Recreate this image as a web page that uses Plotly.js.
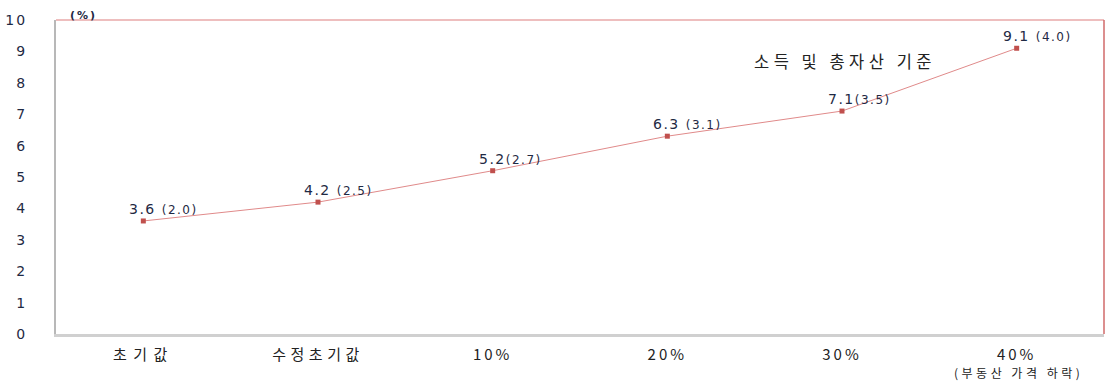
<!DOCTYPE html>
<html><head><meta charset="utf-8">
<script src="https://cdn.plot.ly/plotly-3.0.1.min.js"></script>
<style>body{margin:0;background:#fff}#chart{width:1112px;height:382px}</style>
</head><body><div id="chart"></div>
<script>
const categories = ["초기값", "수정초기값", "10%", "20%", "30%", "40%"];
const tickLabels = [
  "<span style='letter-spacing:6.5px'>초기값</span>",
  "<span style='letter-spacing:4.5px'>수정초기값</span>",
  "<span style='letter-spacing:3px'>10%</span>",
  "<span style='letter-spacing:3px'>20%</span>",
  "<span style='letter-spacing:3px'>30%</span>",
  "<span style='letter-spacing:3px'>40%</span>"
];
const subNote = "(부동산 가격 하락)";
const values = [3.6, 4.2, 5.2, 6.3, 7.1, 9.1];
const paren = [2.0, 2.5, 2.7, 3.1, 3.5, 4.0];
const labelMain = ["3.6 ", "4.2 ", "5.2", "6.3 ", "7.1", "9.1 "];
const yTicks = [0, 1, 2, 3, 4, 5, 6, 7, 8, 9, 10];

const trace = {
  x: categories, y: values, type: 'scatter', mode: 'lines+markers',
  line: {color: '#E08A8A', width: 1},
  marker: {symbol: 'square', size: 5, color: '#C0504D'},
  hoverinfo: 'skip'
};
const numFont = {family: 'DejaVu Sans, Verdana, sans-serif', size: 14, color: '#1F2A44'};
const annotations = categories.map((c, i) => ({
  x: c, y: values[i], xref: 'x', yref: 'y',
  text: '<span style="letter-spacing:1.5px">' + labelMain[i] + '</span><span style="font-size:12px;letter-spacing:1.5px">(' + paren[i].toFixed(1) + ')</span>',
  showarrow: false, xanchor: 'left', yanchor: 'bottom', xshift: -16, yshift: 2,
  font: numFont
}));
annotations.push({x: 0, y: 1, xref: 'paper', yref: 'paper', xanchor: 'left', yanchor: 'bottom',
  xshift: 12, yshift: -4, text: '<span style="letter-spacing:2px"><b>(%)</b></span>', showarrow: false,
  font: {family: 'DejaVu Sans, sans-serif', size: 11, color: '#1F2A44'}});
annotations.push({x: 0.664, y: 0.87, xref: 'paper', yref: 'paper', xanchor: 'left', yanchor: 'middle',
  text: '<span style="letter-spacing:4.5px">소득 및 총자산 기준</span>', showarrow: false,
  font: {family: 'Noto Sans CJK KR, sans-serif', size: 16.5, color: '#222222'}});
annotations.push({x: categories[5], y: 0, xref: 'x', yref: 'paper', xanchor: 'center', yanchor: 'middle',
  yshift: -38, xshift: 2, borderpad: 0, text: '<span style="letter-spacing:3.5px">' + subNote + '</span>', showarrow: false,
  font: {family: 'Noto Sans CJK KR, sans-serif', size: 12, color: '#222222'}});

const layout = {
  width: 1112, height: 382,
  margin: {l: 56, r: 8, t: 20, b: 48},
  paper_bgcolor: '#ffffff', plot_bgcolor: '#ffffff',
  showlegend: false,
  xaxis: {
    type: 'category', range: [-0.5, 5.5], tickvals: categories, ticktext: tickLabels,
    showgrid: false, zeroline: false, showline: true, linecolor: '#D0D0D0', linewidth: 3,
    ticks: '', ticklabelstandoff: 5,
    tickfont: {family: 'Noto Sans CJK KR, sans-serif', size: 15, color: '#222222'}
  },
  yaxis: {
    range: [0, 10], tickvals: yTicks, ticktext: yTicks.map(v => "<span style='letter-spacing:2px'>" + v + "</span>"),
    showgrid: false, zeroline: false,
    showline: true, linecolor: '#B8B8B8', linewidth: 2, ticks: '', ticklabelstandoff: 24,
    tickfont: {family: 'DejaVu Sans, Verdana, sans-serif', size: 14, color: '#1F2A44'}
  },
  shapes: [
    {type: 'line', xref: 'paper', yref: 'paper', x0: 0, x1: 1, y0: 1, y1: 1,
     line: {color: '#E8A8A8', width: 1.5}, layer: 'below'},
    {type: 'line', xref: 'paper', yref: 'paper', x0: 1, x1: 1, y0: 0, y1: 1,
     line: {color: '#D06A6A', width: 1.5}, layer: 'below'}
  ],
  annotations: annotations
};
Plotly.newPlot('chart', [trace], layout, {displayModeBar: false, staticPlot: true});
</script></body></html>
